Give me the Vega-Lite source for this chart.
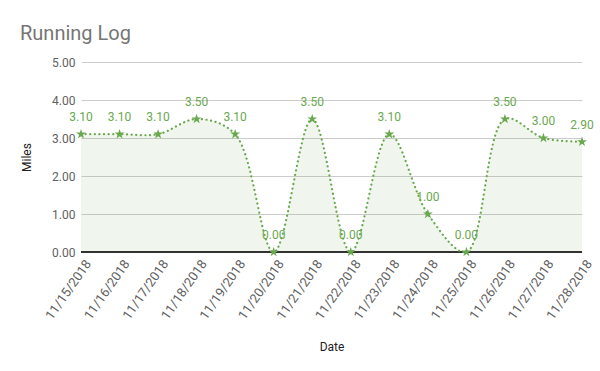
{
  "$schema": "https://vega.github.io/schema/vega-lite/v6.json",
  "autosize": "none",
  "width": 501,
  "height": 190,
  "padding": {"left": 81, "top": 62, "right": 18, "bottom": 119},
  "background": "white",
  "title": {
    "text": "Running Log",
    "anchor": "start",
    "frame": "group",
    "dx": -61,
    "offset": 12,
    "fontSize": 20,
    "font": "Roboto",
    "fontWeight": "normal",
    "color": "#757575"
  },
  "config": {
    "view": {"stroke": null},
    "font": "Roboto"
  },
  "data": {
    "values": [
      {"date": "11/15/2018", "miles": 3.1},
      {"date": "11/16/2018", "miles": 3.1},
      {"date": "11/17/2018", "miles": 3.1},
      {"date": "11/18/2018", "miles": 3.5},
      {"date": "11/19/2018", "miles": 3.1},
      {"date": "11/20/2018", "miles": 0.0},
      {"date": "11/21/2018", "miles": 3.5},
      {"date": "11/22/2018", "miles": 0.0},
      {"date": "11/23/2018", "miles": 3.1},
      {"date": "11/24/2018", "miles": 1.0},
      {"date": "11/25/2018", "miles": 0.0},
      {"date": "11/26/2018", "miles": 3.5},
      {"date": "11/27/2018", "miles": 3.0},
      {"date": "11/28/2018", "miles": 2.9}
    ]
  },
  "encoding": {
    "x": {
      "field": "date",
      "type": "ordinal",
      "sort": null,
      "scale": {"type": "point", "padding": 0},
      "axis": {
        "title": "Date",
        "titleFont": "Roboto",
        "titleFontSize": 12,
        "titleFontWeight": "normal",
        "titleColor": "#222222",
        "titlePadding": 20,
        "labelAngle": -55,
        "labelFontSize": 13,
        "labelColor": "#616161",
        "labelPadding": 9,
        "labelOffset": 7,
        "ticks": false,
        "domain": false,
        "grid": false
      }
    },
    "y": {
      "field": "miles",
      "type": "quantitative",
      "scale": {"domain": [0, 5]},
      "axis": {
        "title": "Miles",
        "titleFont": "Roboto",
        "titleFontSize": 12,
        "titleFontWeight": "normal",
        "titleColor": "#222222",
        "titlePadding": 18,
        "values": [0, 1, 2, 3, 4, 5],
        "format": ".2f",
        "labelFontSize": 12,
        "labelColor": "#616161",
        "labelPadding": 6,
        "ticks": false,
        "domain": false,
        "gridColor": "#cccccc"
      }
    }
  },
  "layer": [
    {
      "mark": {"type": "area", "interpolate": "catmull-rom", "color": "#6aa84f", "opacity": 0.1}
    },
    {
      "mark": {"type": "rule", "color": "#333333", "strokeWidth": 1.5},
      "encoding": {"x": {"value": 0}, "x2": {"value": 501}, "y": {"datum": 0}}
    },
    {
      "mark": {"type": "line", "interpolate": "catmull-rom", "color": "#6aa84f", "strokeWidth": 2.2, "strokeDash": [0.1, 4.5], "strokeCap": "round"}
    },
    {
      "mark": {"type": "point", "shape": "M0,-1L0.2245,-0.309L0.9511,-0.309L0.3633,0.118L0.5878,0.809L0,0.382L-0.5878,0.809L-0.3633,0.118L-0.9511,-0.309L-0.2245,-0.309Z", "filled": true, "color": "#6aa84f", "opacity": 1, "size": 110}
    },
    {
      "mark": {"type": "text", "color": "#6aa84f", "fontSize": 12, "baseline": "bottom", "dy": -10},
      "encoding": {"text": {"field": "miles", "type": "quantitative", "format": ".2f"}}
    }
  ]
}
